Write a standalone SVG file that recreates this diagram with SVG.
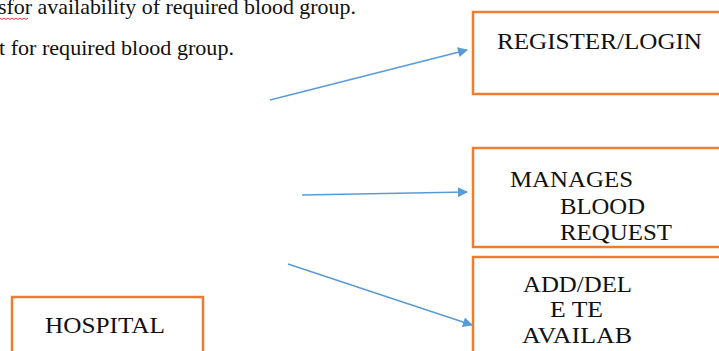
<svg xmlns="http://www.w3.org/2000/svg" width="719" height="351" viewBox="0 0 719 351">
<style>
.box{fill:#fff;stroke:#ED7D31;stroke-width:2.5}
.t{font-family:"Liberation Serif","Times New Roman",serif;font-size:24px;fill:#111}
.b{font-family:"Liberation Serif","Times New Roman",serif;font-size:21px;fill:#111}
.c{stroke:#5B9BD5;stroke-width:1.6;fill:none;marker-end:url(#ah)}
</style>
<defs>
<marker id="ah" viewBox="0 0 10 10" refX="9" refY="5" markerWidth="11" markerHeight="10" orient="auto" markerUnits="userSpaceOnUse">
<path d="M0,0 L10,5 L0,10 z" fill="#5B9BD5"/>
</marker>
</defs>
<rect width="719" height="351" fill="#fff"/>
<g id="bodytext">
<text class="b" x="-2" y="14" textLength="358" lengthAdjust="spacingAndGlyphs">sfor availability of required blood group.</text>
<path d="M0,18 l2,1.5 l2,-1.5 l2,1.5 l2,-1.5 l2,1.5 l2,-1.5 l2,1.5 l2,-1.5 l2,1.5 l2,-1.5 l2,1.5 l2,-1.5 l2,1.5 l2,-1.5" fill="none" stroke="#e02020" stroke-width="0.9"/>
<text class="b" x="-1" y="55" textLength="235" lengthAdjust="spacingAndGlyphs">t for required blood group.</text>
</g>
<g id="register">
<rect class="box" x="473" y="12" width="260" height="82"/>
<text class="t" x="497" y="49" textLength="205" lengthAdjust="spacingAndGlyphs">REGISTER/LOGIN</text>
</g>
<g id="manages">
<rect class="box" x="473" y="148" width="260" height="99"/>
<text class="t" x="510" y="187" textLength="123" lengthAdjust="spacingAndGlyphs">MANAGES</text>
<text class="t" x="560" y="214" textLength="85" lengthAdjust="spacingAndGlyphs">BLOOD</text>
<text class="t" x="560" y="240" textLength="112" lengthAdjust="spacingAndGlyphs">REQUEST</text>
</g>
<g id="adddelete">
<rect class="box" x="473" y="257" width="260" height="110"/>
<text class="t" x="523" y="292" textLength="109" lengthAdjust="spacingAndGlyphs">ADD/DEL</text>
<text class="t" x="550" y="317" textLength="53" lengthAdjust="spacingAndGlyphs">E TE</text>
<text class="t" x="522" y="343" textLength="110" lengthAdjust="spacingAndGlyphs">AVAILAB</text>
</g>
<g id="hospital">
<rect class="box" x="12" y="297" width="191" height="70"/>
<text class="t" x="45" y="333" textLength="120" lengthAdjust="spacingAndGlyphs">HOSPITAL</text>
</g>
<g id="connectors">
<line class="c" x1="270" y1="100" x2="467" y2="50"/>
<line class="c" x1="302" y1="195" x2="467" y2="192"/>
<line class="c" x1="288" y1="264" x2="472" y2="325"/>
</g>
</svg>
